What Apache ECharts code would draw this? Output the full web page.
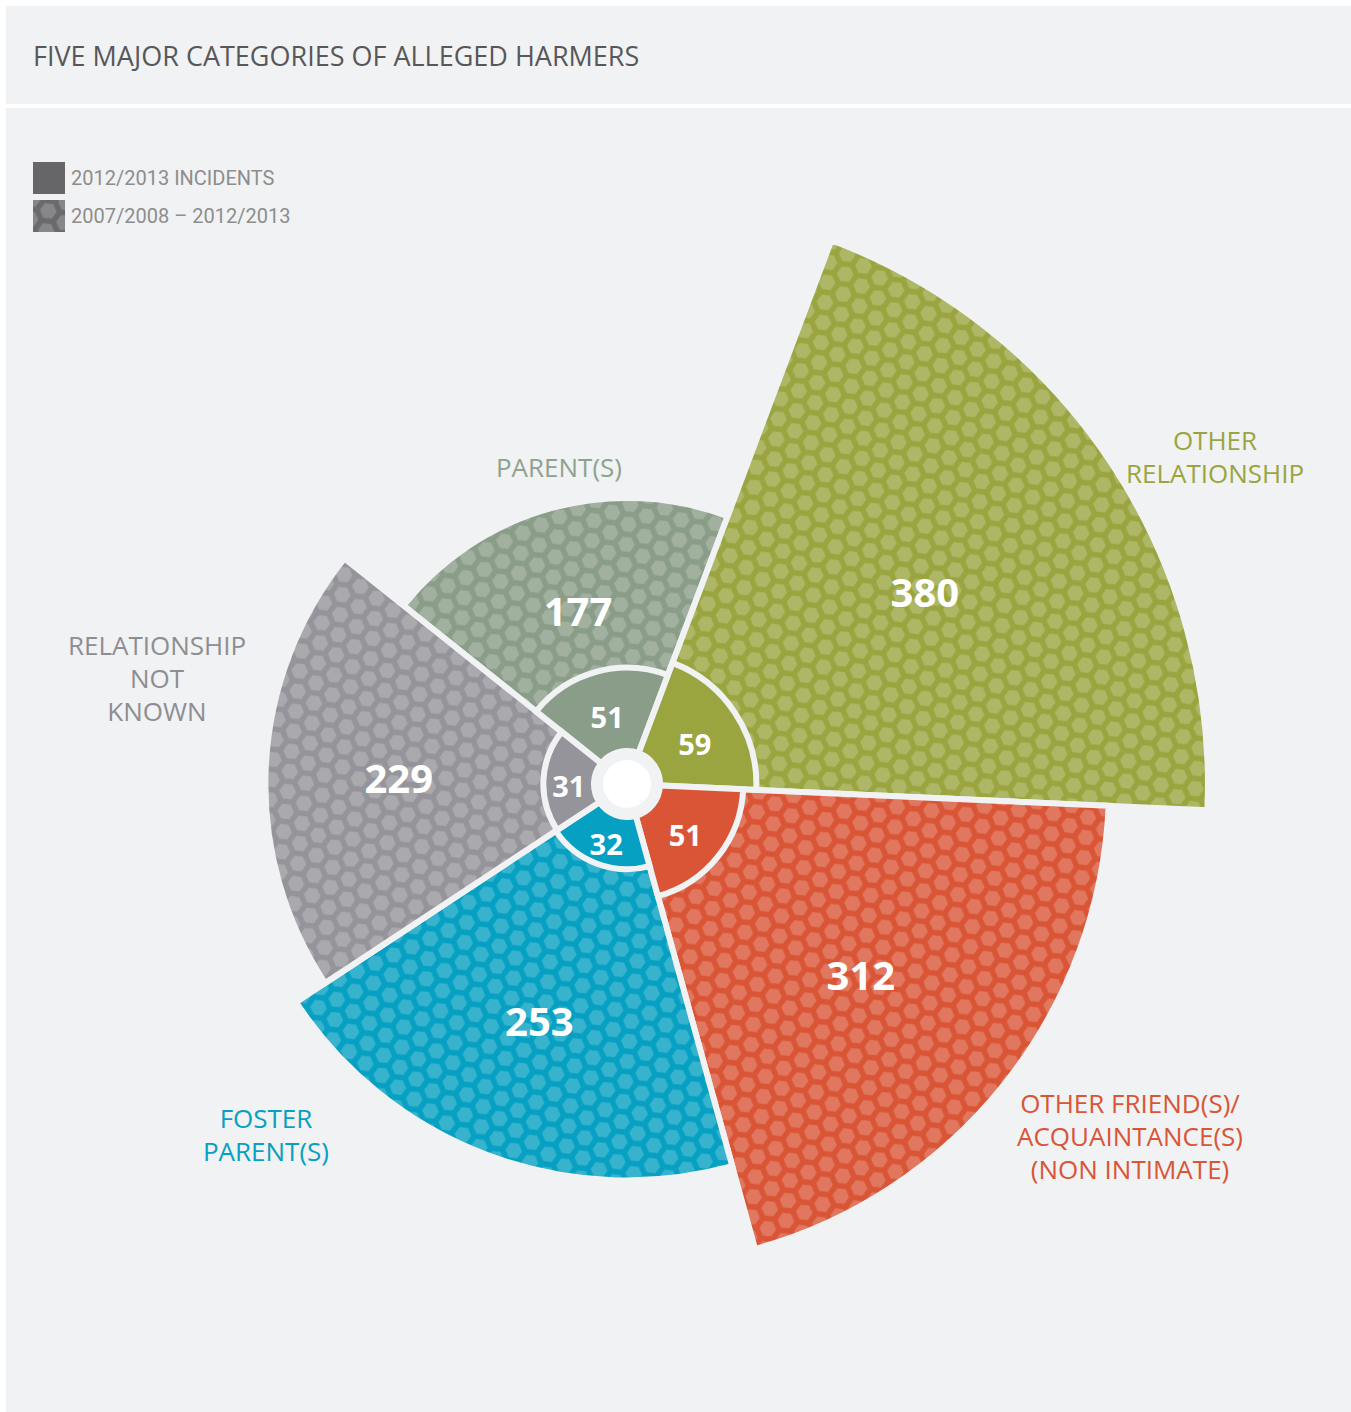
<!DOCTYPE html>
<html>
<head>
<meta charset="utf-8">
<script src="https://cdn.jsdelivr.net/npm/echarts@6/dist/echarts.min.js"></script>
<style>
  html, body { margin: 0; padding: 0; background: #fff; }
  #chart { width: 1351px; height: 1412px; }
</style>
</head>
<body>
<div id="chart"></div>
<script>
// data
const categories = [
  'PARENT(S)',
  'OTHER\nRELATIONSHIP',
  'OTHER FRIEND(S)/\nACQUAINTANCE(S)\n(NON INTIMATE)',
  'FOSTER\nPARENT(S)',
  'RELATIONSHIP\nNOT\nKNOWN'
]
const incidents1213 = [51, 59, 51, 32, 31]
const incidents0813 = [177, 380, 312, 253, 229]
const seriesNames = ['2012/2013 INCIDENTS', '2007/2008 – 2012/2013']

// styling
const colors = ['#8a9d88', '#9aa540', '#d95536', '#06a0c2', '#94949a']
const textColors = ['#8fa28d', '#9aa540', '#d95536', '#06a0c2', '#8e8e92']
const labelPos = [[559, 467], [1215, 456], [1130, 1136], [266, 1134], [157, 678]]
const BG = '#f1f2f4'
const CX = 627, CY = 784
const FONT = '"Open Sans", "Noto Sans", sans-serif'

function hexPattern(base) {
  const w = 20, h = 35
  const c = document.createElement('canvas')
  c.width = w
  c.height = h
  const ctx = c.getContext('2d')
  ctx.fillStyle = base
  ctx.fillRect(0, 0, w, h)
  ctx.fillStyle = 'rgba(255,255,255,0.2)'
  const pts = [[0, 0], [w, 0], [0, h], [w, h], [w / 2, h / 2]]
  pts.forEach(([x, y]) => {
    ctx.beginPath()
    for (let k = 0; k < 6; k++) {
      const a = Math.PI / 6 + k * Math.PI / 3
      const px = x + 8.4 * Math.cos(a), py = y + 8.4 * Math.sin(a)
      if (k) ctx.lineTo(px, py); else ctx.moveTo(px, py)
    }
    ctx.closePath()
    ctx.fill()
  })
  return { image: c, repeat: 'repeat', rotation: -0.42, imageWidth: w, imageHeight: h }
}

const chart = echarts.init(document.getElementById('chart'), null, { renderer: 'svg' })

const graphics = [
  { type: 'rect', shape: { x: 6, y: 6, width: 1345, height: 98 }, style: { fill: BG }, z: -10 },
  { type: 'rect', shape: { x: 6, y: 108, width: 1345, height: 1304 }, style: { fill: BG }, z: -10 },
  { type: 'circle', shape: { cx: CX, cy: CY, r: 27 }, style: { fill: '#fff', stroke: BG, lineWidth: 6 }, z: 100 }
]
categories.forEach((name, i) => {
  graphics.push({
    type: 'text',
    x: labelPos[i][0],
    y: labelPos[i][1],
    z: 50,
    style: {
      text: name,
      fill: textColors[i],
      font: '26px ' + FONT,
      lineHeight: 33,
      align: 'center',
      verticalAlign: 'middle'
    }
  })
})

chart.setOption({
  backgroundColor: '#ffffff',
  animation: false,
  title: {
    text: 'FIVE MAJOR CATEGORIES OF ALLEGED HARMERS',
    left: 28,
    top: 37,
    textStyle: { fontFamily: FONT, fontSize: 27, fontWeight: 'normal', color: '#58585a' }
  },
  legend: {
    orient: 'vertical',
    left: 31,
    top: 160,
    padding: 0,
    itemWidth: 34,
    itemHeight: 34,
    itemGap: 2,
    icon: 'rect',
    selectedMode: false,
    textStyle: { fontFamily: '"Liberation Sans Narrow", Roboto, sans-serif', fontSize: 20, color: '#8d8d8d' },
    data: seriesNames
  },
  graphic: graphics,
  polar: [
    { center: [CX, CY], radius: [29, 610] },
    { center: [CX, CY], radius: [33, 131] }
  ],
  angleAxis: [
    { polarIndex: 0, type: 'category', data: categories, startAngle: 141.4, clockwise: true, show: false },
    { polarIndex: 1, type: 'category', data: categories, startAngle: 141.4, clockwise: true, show: false }
  ],
  radiusAxis: [
    { polarIndex: 0, type: 'value', min: 0, max: 400, show: false },
    { polarIndex: 1, type: 'value', min: 0, max: 60, show: false }
  ],
  series: [
    {
      name: seriesNames[1],
      type: 'bar',
      coordinateSystem: 'polar',
      polarIndex: 0,
      barCategoryGap: '0%',
      z: 2,
      itemStyle: { color: hexPattern('#6a6a6c'), borderColor: BG, borderWidth: 6 },
      emphasis: { disabled: true },
      label: {
        show: true,
        position: 'middle',
        rotate: 0,
        color: '#fff',
        fontFamily: FONT,
        fontWeight: 'bold',
        fontSize: 40
      },
      // push the value a bit further out than the bar middle
      labelLayout: function (p) {
        const r = p.labelRect
        const lx = r.x + r.width / 2, ly = r.y + r.height / 2
        return { x: CX + (lx - CX) * 1.17, y: CY + (ly - CY) * 1.17 + 4, rotate: 0, align: 'center', verticalAlign: 'middle' }
      },
      data: incidents0813.map((v, i) => ({ value: v, itemStyle: { color: hexPattern(colors[i]) } }))
    },
    {
      name: seriesNames[0],
      type: 'bar',
      coordinateSystem: 'polar',
      polarIndex: 1,
      barCategoryGap: '0%',
      z: 5,
      itemStyle: { color: '#666668', borderColor: BG, borderWidth: 6 },
      emphasis: { disabled: true },
      label: {
        show: true,
        position: 'middle',
        rotate: 0,
        color: '#fff',
        fontFamily: FONT,
        fontWeight: 'bold',
        fontSize: 29
      },
      labelLayout: { rotate: 0, dy: 4 },
      data: incidents1213.map((v, i) => ({ value: v, itemStyle: { color: colors[i] } }))
    }
  ]
})
</script>
</body>
</html>
